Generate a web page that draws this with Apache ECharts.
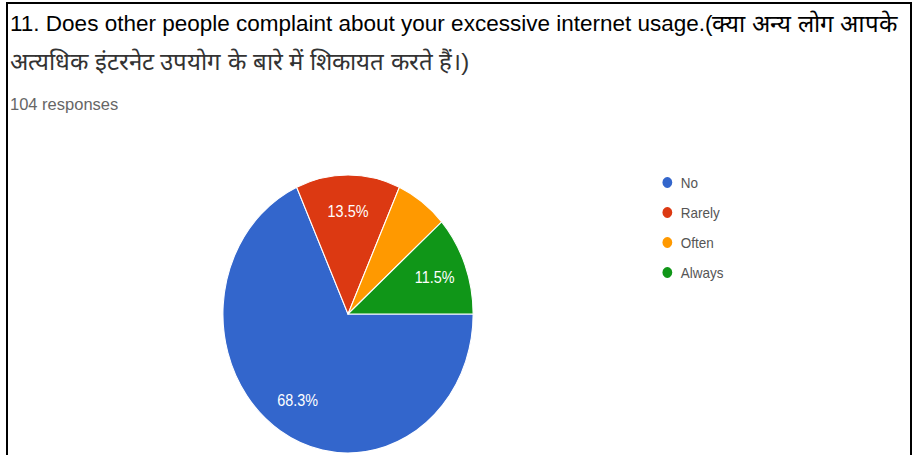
<!DOCTYPE html>
<html>
<head>
<meta charset="utf-8">
<script src="https://cdn.jsdelivr.net/npm/echarts@6/dist/echarts.min.js"></script>
<style>
  html, body { margin: 0; padding: 0; background: #fff; }
  #frame { position: relative; width: 914px; height: 455px; overflow: hidden; background: #fff; }
  #head { position: absolute; left: 0; top: 0; width: 914px; height: 455px; }
  /* the pie panel is drawn a little wider and squeezed horizontally */
  #pie { position: absolute; left: 0; top: 0; width: 1016px; height: 455px; transform: scaleX(0.9); transform-origin: 0 0; }
</style>
</head>
<body>
<div id="frame">
  <div id="head"></div>
  <div id="pie"></div>
</div>
<script>
// Question text (English part, Hindi part) and response count
const titleEn = '11. Does other people complaint about your excessive internet usage.(';
const titleHi1 = 'क्या अन्य लोग आपके';
const titleHi2 = 'अत्यधिक इंटरनेट उपयोग के बारे में शिकायत करते हैं।)';
const responseNote = '104 responses';

// Answers and number of responses for each
const answers = ['No', 'Rarely', 'Often', 'Always'];
const counts = [71, 14, 7, 12];
const sliceColors = ['#3366cc', '#dc3912', '#ff9900', '#109618'];

const latinFont = "'Liberation Sans', Arial, sans-serif";
const bodyFont = "'Liberation Sans', Arial, sans-serif";

// Header: question, response count and outer frame
const head = echarts.init(document.getElementById('head'), null, { renderer: 'svg' });
head.setOption({
  animation: false,
  graphic: [
    {
      type: 'rect',
      shape: { x: 7, y: 3, width: 904, height: 470 },
      style: { fill: 'none', stroke: '#000', lineWidth: 2 }
    },
    {
      type: 'text', x: 10, y: 23,
      style: {
        text: '{en|' + titleEn + '}{hi|' + titleHi1 + '}',
        verticalAlign: 'middle',
        rich: {
          en: { fontFamily: latinFont, fontSize: 22.5, color: '#333' },
          hi: { fontFamily: latinFont, fontSize: 24, color: '#333' }
        }
      }
    },
    {
      type: 'text', x: 10, y: 61,
      style: { text: titleHi2, fontFamily: latinFont, fontSize: 24, fill: '#333', verticalAlign: 'middle' }
    },
    {
      type: 'text', x: 10, y: 104,
      style: { text: responseNote, font: '16.5px ' + bodyFont, fill: '#666', verticalAlign: 'middle' }
    }
  ]
});

// Pie and legend
const pieData = answers.map((name, i) => ({ name, value: counts[i], itemStyle: { color: sliceColors[i] } }));
const pct = p => (p.percent < 8 ? '' : p.percent.toFixed(1) + '%');

const pie = echarts.init(document.getElementById('pie'), null, { renderer: 'svg' });
pie.setOption({
  animation: false,
  legend: {
    data: answers,
    orient: 'vertical',
    left: 729,
    top: 170,
    itemWidth: 14,
    itemHeight: 13,
    itemGap: 15,
    icon: 'circle',
    textStyle: { fontFamily: bodyFont, fontSize: 15, color: '#555', padding: [0, 0, 0, 3] }
  },
  series: [
    {
      type: 'pie',
      center: [386.7, 314],
      radius: [0, 139],
      startAngle: 0,
      clockwise: true,
      silent: true,
      label: { show: false },
      labelLine: { show: false },
      itemStyle: { borderColor: '#fff', borderWidth: 1.2 },
      emphasis: { disabled: true },
      data: pieData
    },
    {
      // transparent ring that carries the percentage labels
      type: 'pie',
      center: [386.7, 314],
      radius: [61, 139],
      startAngle: 0,
      clockwise: true,
      silent: true,
      label: {
        show: true,
        position: 'inside',
        formatter: pct,
        color: '#fff',
        fontFamily: bodyFont,
        fontSize: 16
      },
      labelLine: { show: false },
      itemStyle: { color: 'transparent', borderWidth: 0 },
      emphasis: { disabled: true },
      data: answers.map((name, i) => ({ name, value: counts[i] }))
    }
  ]
});
</script>
</body>
</html>
